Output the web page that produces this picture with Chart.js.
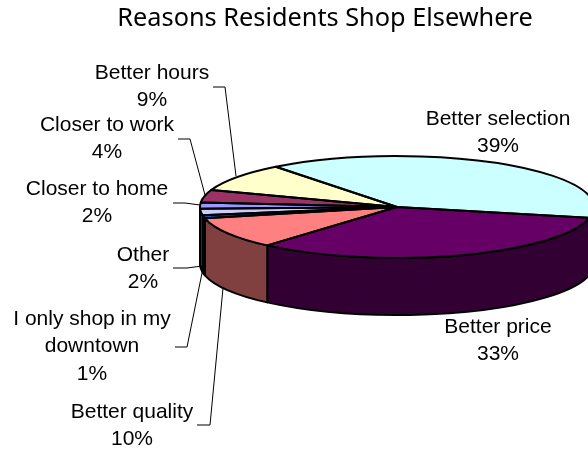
<!DOCTYPE html>
<html>
<head>
<meta charset="utf-8">
<style>
  html, body { margin: 0; padding: 0; background: #fff; overflow: hidden; }
  canvas { display: block; }
</style>
<script src="https://cdn.jsdelivr.net/npm/chart.js@4"></script>
</head>
<body>
<canvas id="chart" width="588" height="449"></canvas>
<script>
// Survey shares, listed clockwise starting from the left-hand edge of the disc.
const categories = ['Closer to home', 'Closer to work', 'Better hours', 'Better selection',
                    'Better price', 'Better quality', 'I only shop in my downtown', 'Other'];
const shares = [2, 4, 9, 39, 33, 10, 1, 2];
const topColors = ['#9999FF', '#993366', '#FFFFCC', '#CCFFFF', '#660066', '#FF8080', '#0066CC', '#CCCCFF'];
const wallColors = ['#4D4D80', '#4D1933', '#808066', '#668080', '#330033', '#804040', '#003366', '#666680'];

// Disc geometry on the page: tilted ellipse plus the height of the cylinder wall.
const disc = { cx: 397, cy: 207, rx: 197, ry: 51, depth: 57, outline: 2 };
const firstSliceAngle = 268;

// Callouts: wrapped lines, text anchor, and leader polyline.
const callouts = [
  { i: 3, lines: ['Better selection'], x: 498, y: 119 },
  { i: 4, lines: ['Better price'], x: 498, y: 327 },
  { i: 2, lines: ['Better hours'], x: 152, y: 73, leader: [[213, 87], [225, 87], [236, 176]] },
  { i: 1, lines: ['Closer to work'], x: 107, y: 125, leader: [[178, 139], [190, 139], [205, 195]] },
  { i: 0, lines: ['Closer to home'], x: 97, y: 189, leader: [[173, 203], [185, 203], [200, 205]] },
  { i: 7, lines: ['Other'], x: 143, y: 255, leader: [[173, 268], [187, 268], [202, 266]] },
  { i: 6, lines: ['I only shop in my', 'downtown'], x: 92, y: 319, leader: [[175, 347], [187, 347], [202, 273]] },
  { i: 5, lines: ['Better quality'], x: 132, y: 412, leader: [[197, 425], [210, 425], [223, 288]] }
];

const pct = v => Math.round(v / shares.reduce((a, b) => a + b, 0) * 100) + '%';

// Flattens the library's circular pie into the tilted disc and adds the wall.
const tiltedDisc = {
  id: 'tiltedDisc',
  beforeDatasetsDraw(chart) {
    const { ctx } = chart;
    const arcs = chart.getDatasetMeta(0).data;
    const { cx, cy, rx, ry, depth, outline } = disc;
    ctx.save();
    ctx.lineWidth = outline;
    ctx.strokeStyle = '#000';
    ctx.lineJoin = 'round';
    // Wall: only the part of each slice facing the viewer (0..PI on the canvas).
    arcs.forEach((arc, k) => {
      const norm = a => { let t = a % (2 * Math.PI); return t < 0 ? t + 2 * Math.PI : t; };
      let s = norm(arc.startAngle), e = s + (arc.endAngle - arc.startAngle);
      [[s, e], [s - 2 * Math.PI, e - 2 * Math.PI]].forEach(([a0, a1]) => {
        const a = Math.max(a0, 0), b = Math.min(a1, Math.PI);
        if (b <= a) return;
        ctx.beginPath();
        ctx.ellipse(cx, cy, rx, ry, 0, a, b);
        ctx.ellipse(cx, cy + depth, rx, ry, 0, b, a, true);
        ctx.closePath();
        ctx.fillStyle = wallColors[k];
        ctx.fill();
        ctx.stroke();
      });
    });
    ctx.restore();
    // The library's slices are painted under this transform.
    const first = arcs[0];
    const r = first.outerRadius;
    ctx.save();
    ctx.translate(cx, cy);
    ctx.scale(rx / r, ry / r);
    ctx.translate(-first.x, -first.y);
  },
  afterDatasetsDraw(chart) {
    const { ctx } = chart;
    ctx.restore();
    const { cx, cy, rx, ry, outline } = disc;
    // Outlines go on after the transform is gone so their width stays even.
    ctx.save();
    ctx.lineWidth = outline;
    ctx.strokeStyle = '#000';
    ctx.lineJoin = 'round';
    chart.getDatasetMeta(0).data.forEach(arc => {
      ctx.beginPath();
      ctx.moveTo(cx, cy);
      ctx.ellipse(cx, cy, rx, ry, 0, arc.startAngle, arc.endAngle);
      ctx.closePath();
      ctx.stroke();
    });
    // Callout text and leaders.
    ctx.fillStyle = '#000';
    ctx.font = '21px "Liberation Sans", Arial, sans-serif';
    ctx.textAlign = 'center';
    ctx.textBaseline = 'middle';
    const lineStep = 27.5;
    callouts.forEach(c => {
      const rows = c.lines.concat(pct(shares[c.i]));
      rows.forEach((t, n) => ctx.fillText(t, c.x, c.y + n * lineStep));
      if (c.leader) {
        ctx.beginPath();
        ctx.lineWidth = 1;
        c.leader.forEach(([x, y], n) => n ? ctx.lineTo(x, y) : ctx.moveTo(x, y));
        ctx.stroke();
      }
    });
    ctx.restore();
  }
};

new Chart(document.getElementById('chart'), {
  type: 'pie',
  data: {
    labels: categories,
    datasets: [{
      data: shares,
      backgroundColor: topColors,
      borderWidth: 0,
      clip: false
    }]
  },
  options: {
    responsive: false,
    animation: false,
    rotation: firstSliceAngle,
    layout: { padding: { left: 62 } },
    plugins: {
      legend: { display: false },
      tooltip: { enabled: false },
      title: {
        display: true,
        text: 'Reasons Residents Shop Elsewhere',
        color: '#000',
        font: { family: '"Noto Sans", "Open Sans", sans-serif', size: 25.3, weight: 'normal' },
        padding: { top: 4, bottom: 4 }
      }
    }
  },
  plugins: [tiltedDisc]
});
</script>
</body>
</html>
